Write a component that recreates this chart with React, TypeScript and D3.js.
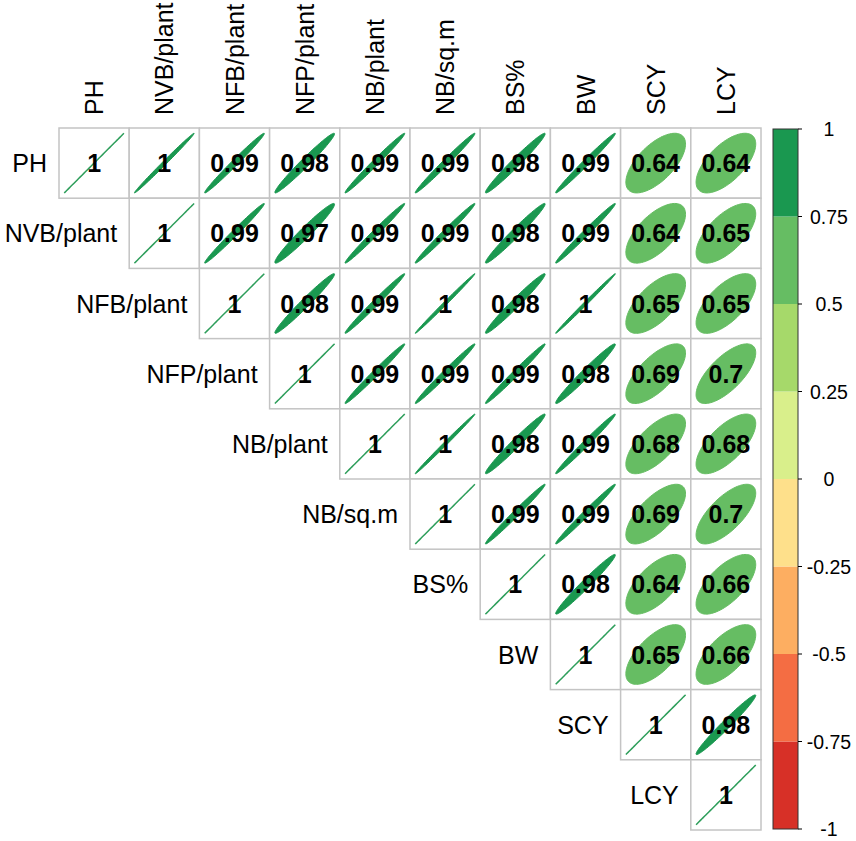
import { useEffect, useRef } from "react"
import * as d3 from "d3"

// variable names, in plot order
const variables = ["PH", "NVB/plant", "NFB/plant", "NFP/plant", "NB/plant", "NB/sq.m", "BS%", "BW", "SCY", "LCY"]

// upper triangle of the correlation matrix, each row starts at the diagonal
const rowPH = [1, 0.996, 0.99, 0.98, 0.99, 0.99, 0.98, 0.99, 0.64, 0.64]
const rowNVB = [1, 0.99, 0.97, 0.99, 0.99, 0.98, 0.99, 0.64, 0.65]
const rowNFB = [1, 0.98, 0.99, 0.997, 0.98, 0.997, 0.65, 0.65]
const rowNFP = [1, 0.99, 0.99, 0.99, 0.98, 0.69, 0.7]
const rowNBplant = [1, 0.997, 0.98, 0.99, 0.68, 0.68]
const rowNBsqm = [1, 0.99, 0.99, 0.69, 0.7]
const rowBS = [1, 0.98, 0.64, 0.66]
const rowBW = [1, 0.65, 0.66]
const rowSCY = [1, 0.98]
const rowLCY = [1]

const upperRows = [rowPH, rowNVB, rowNFB, rowNFP, rowNBplant, rowNBsqm, rowBS, rowBW, rowSCY, rowLCY]

// colour legend
const legendBreaks = [-1, -0.75, -0.5, -0.25, 0, 0.25, 0.5, 0.75, 1]
const legendColors = ["#D73027", "#F46D43", "#FDAE61", "#FEE08B", "#D9EF8B", "#A6D96A", "#66BD63", "#1A9850"]
const legendTicks = [-1, -0.75, -0.5, -0.25, 0, 0.25, 0.5, 0.75, 1]

interface Cell {
  row: string
  col: string
  r: number
  diag: boolean
}

export default function App() {
  const svgRef = useRef<SVGSVGElement>(null)

  useEffect(() => {
    if (!svgRef.current) return
    const svg = d3.select(svgRef.current)
    svg.selectAll("*").remove()

    const font = "'Liberation Sans', Arial, Helvetica, sans-serif"
    const gridLeft = 59
    const gridTop = 128
    const gridSize = 702

    const x = d3.scaleBand().domain(variables).range([gridLeft, gridLeft + gridSize])
    const y = d3.scaleBand().domain(variables).range([gridTop, gridTop + gridSize])
    const cw = x.bandwidth()

    const color = d3.scaleThreshold<number, string>()
      .domain(legendBreaks.slice(1, -1))
      .range(legendColors)

    const cells: Cell[] = []
    upperRows.forEach((vals, i) => {
      vals.forEach((r, k) => {
        cells.push({ row: variables[i], col: variables[i + k], r, diag: k === 0 })
      })
    })

    // ellipse outline as used by corrplot
    const ellipse = (r: number) => {
      const phi = Math.acos(Math.min(1, r)) / 2
      const pts: [number, number][] = d3.range(0, 99).map((j) => {
        const t = (j / 98) * 2 * Math.PI
        return [(0.85 * Math.cos(t + phi)) / 2 * cw, (-0.85 * Math.cos(t - phi)) / 2 * cw]
      })
      return d3.line().curve(d3.curveLinearClosed)(pts)
    }

    const g = svg.append("g")

    // cell borders
    g.selectAll("rect.cell")
      .data(cells)
      .enter()
      .append("rect")
      .attr("x", (d) => x(d.col)!)
      .attr("y", (d) => y(d.row)!)
      .attr("width", cw)
      .attr("height", cw)
      .attr("fill", "#fff")
      .attr("stroke", "#C4C4C4")
      .attr("stroke-width", 1.5)

    // ellipses
    g.selectAll("path.ell")
      .data(cells)
      .enter()
      .append("path")
      .attr("transform", (d) => `translate(${x(d.col)! + cw / 2}, ${y(d.row)! + cw / 2})`)
      .attr("d", (d) => ellipse(d.r))
      .attr("fill", (d) => color(d.r))
      .attr("stroke", (d) => (d.diag ? "#2E9E5B" : color(d.r)))
      .attr("stroke-width", (d) => (d.diag ? 1.5 : 1))

    // coefficients
    g.selectAll("text.num")
      .data(cells)
      .enter()
      .append("text")
      .attr("x", (d) => x(d.col)! + cw / 2)
      .attr("y", (d) => y(d.row)! + cw / 2)
      .attr("text-anchor", "middle")
      .attr("dy", "0.36em")
      .style("font-family", font)
      .style("font-size", "25px")
      .style("font-weight", "bold")
      .style("fill", "#000")
      .text((d) => String(Math.round(d.r * 100) / 100))

    // column labels
    g.selectAll("text.col")
      .data(variables)
      .enter()
      .append("text")
      .attr("transform", (d) => `translate(${x(d)! + cw / 2}, 115) rotate(-90)`)
      .attr("text-anchor", "start")
      .attr("dy", "0.36em")
      .style("font-family", font)
      .style("font-size", "25px")
      .style("fill", "#000")
      .text((d) => d)

    // row labels
    g.selectAll("text.row")
      .data(variables)
      .enter()
      .append("text")
      .attr("x", (d) => x(d)! - 12)
      .attr("y", (d) => y(d)! + cw / 2)
      .attr("text-anchor", "end")
      .attr("dy", "0.36em")
      .style("font-family", font)
      .style("font-size", "25px")
      .style("fill", "#000")
      .text((d) => d)

    // colour legend
    const ly = d3.scaleLinear().domain([-1, 1]).range([829, 129])
    const lx0 = 773
    const lx1 = 798
    const legend = svg.append("g")
    legend.selectAll("rect")
      .data(legendColors)
      .enter()
      .append("rect")
      .attr("x", lx0)
      .attr("y", (_, i) => ly(legendBreaks[i + 1]))
      .attr("width", lx1 - lx0)
      .attr("height", (_, i) => ly(legendBreaks[i]) - ly(legendBreaks[i + 1]))
      .attr("fill", (d) => d)
    legend.append("rect")
      .attr("x", lx0)
      .attr("y", ly(1))
      .attr("width", lx1 - lx0)
      .attr("height", ly(-1) - ly(1))
      .attr("fill", "none")
      .attr("stroke", "#333")
      .attr("stroke-width", 1)
    legend.selectAll("line")
      .data(legendTicks)
      .enter()
      .append("line")
      .attr("x1", lx1)
      .attr("x2", lx1 + 4)
      .attr("y1", (d) => ly(d))
      .attr("y2", (d) => ly(d))
      .attr("stroke", "#000")
    legend.selectAll("text")
      .data(legendTicks)
      .enter()
      .append("text")
      .attr("x", 829)
      .attr("y", (d) => ly(d))
      .attr("dy", "0.36em")
      .attr("text-anchor", "middle")
      .style("font-family", font)
      .style("font-size", "19.5px")
      .style("fill", "#000")
      .text((d) => String(d))
  }, [])

  return (
    <div style={{ position: "absolute", left: 0, top: 0 }}>
      <svg ref={svgRef} width={856} height={841} style={{ display: "block", background: "#fff" }} />
    </div>
  )
}
